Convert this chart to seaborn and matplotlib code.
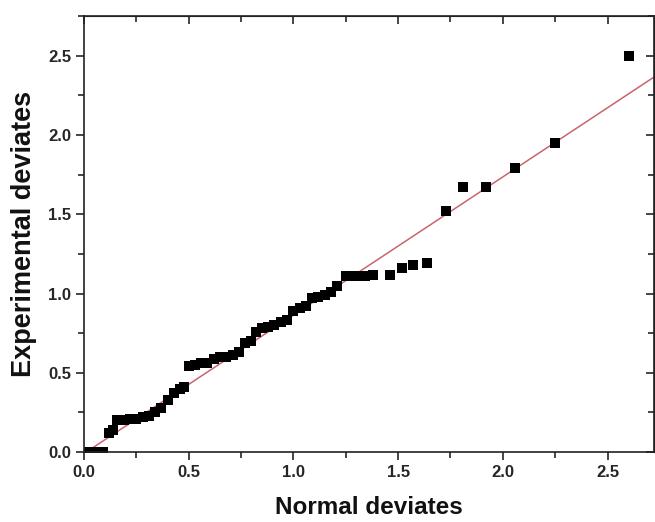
import numpy as np
import pandas as pd
import matplotlib
matplotlib.use("Agg")
import matplotlib.pyplot as plt
import seaborn as sns
from matplotlib.ticker import MultipleLocator

# données
normal_dev = [0.00, 0.03, 0.06, 0.09,
              0.12, 0.14,
              0.16, 0.19, 0.22, 0.25, 0.28, 0.31, 0.34, 0.37,
              0.40, 0.43, 0.46, 0.48,
              0.50, 0.53, 0.56, 0.59, 0.62, 0.65, 0.68, 0.71, 0.74,
              0.77, 0.80, 0.82, 0.85, 0.88, 0.91, 0.94, 0.97,
              1.00, 1.03, 1.06, 1.09, 1.12, 1.15, 1.18, 1.21,
              1.25, 1.28, 1.31, 1.34, 1.38, 1.46, 1.52, 1.57, 1.64,
              1.73, 1.81, 1.92, 2.06, 2.25, 2.60]
exp_dev = [0.00, 0.00, 0.00, 0.00,
           0.12, 0.14,
           0.20, 0.20, 0.21, 0.21, 0.22, 0.23, 0.25, 0.28,
           0.33, 0.37, 0.40, 0.41,
           0.54, 0.55, 0.56, 0.56, 0.59, 0.60, 0.60, 0.61, 0.63,
           0.69, 0.70, 0.76, 0.78, 0.79, 0.80, 0.82, 0.83,
           0.89, 0.91, 0.92, 0.97, 0.98, 0.99, 1.01, 1.05,
           1.11, 1.11, 1.11, 1.11, 1.12, 1.12, 1.16, 1.18, 1.19,
           1.52, 1.67, 1.67, 1.79, 1.95, 2.50]

# droite d'ajustement
fit_intercept = -0.01
fit_slope = 0.873

df = pd.DataFrame({"Normal deviates": normal_dev, "Experimental deviates": exp_dev})

sns.set_style("ticks")
plt.rcParams['font.family'] = ['Liberation Sans', 'DejaVu Sans']

fig = plt.figure(figsize=(6.55, 5.22), dpi=100)
ax = fig.add_axes([0.128, 0.134, 0.870, 0.835])

ax.axline((0, fit_intercept), slope=fit_slope, color="#c9646f", lw=1.1, zorder=1)
sns.scatterplot(data=df, x="Normal deviates", y="Experimental deviates", ax=ax,
                marker="s", s=58, color="black", edgecolor="black", linewidth=0, zorder=2)

ax.set_xlim(0, 2.72)
ax.set_ylim(0, 2.75)
ax.xaxis.set_major_locator(MultipleLocator(0.5))
ax.xaxis.set_minor_locator(MultipleLocator(0.25))
ax.yaxis.set_major_locator(MultipleLocator(0.5))
ax.yaxis.set_minor_locator(MultipleLocator(0.25))
ax.xaxis.set_major_formatter(matplotlib.ticker.FormatStrFormatter('%.1f'))
ax.yaxis.set_major_formatter(matplotlib.ticker.FormatStrFormatter('%.1f'))

for sp in ax.spines.values():
    sp.set_linewidth(1.2)
    sp.set_color("#222222")
    sp.set_visible(True)

ax.tick_params(which="major", direction="out", length=6, width=1.2, labelsize=12, pad=3)
ax.tick_params(which="minor", direction="out", length=4, width=1.2)
for lab in ax.get_xticklabels() + ax.get_yticklabels():
    lab.set_fontweight("bold")

# ticks miroirs en haut / à droite, vers l'intérieur
top = ax.secondary_xaxis("top")
top.xaxis.set_major_locator(MultipleLocator(0.5))
top.xaxis.set_minor_locator(MultipleLocator(0.25))
top.tick_params(which="major", direction="in", length=6, width=1.2, labeltop=False)
top.tick_params(which="minor", direction="in", length=4, width=1.2)
right = ax.secondary_yaxis("right")
right.yaxis.set_major_locator(MultipleLocator(0.5))
right.yaxis.set_minor_locator(MultipleLocator(0.25))
right.tick_params(which="major", direction="in", length=6, width=1.2, labelright=False)
right.tick_params(which="minor", direction="in", length=4, width=1.2)

ax.set_xlabel("Normal deviates", fontsize=17.5, fontweight="bold", labelpad=12, color="#111111")
ax.set_ylabel("Experimental deviates", fontsize=19.5, fontweight="bold", labelpad=8, color="#111111")

plt.savefig("out.png", dpi=100)
plt.close()
